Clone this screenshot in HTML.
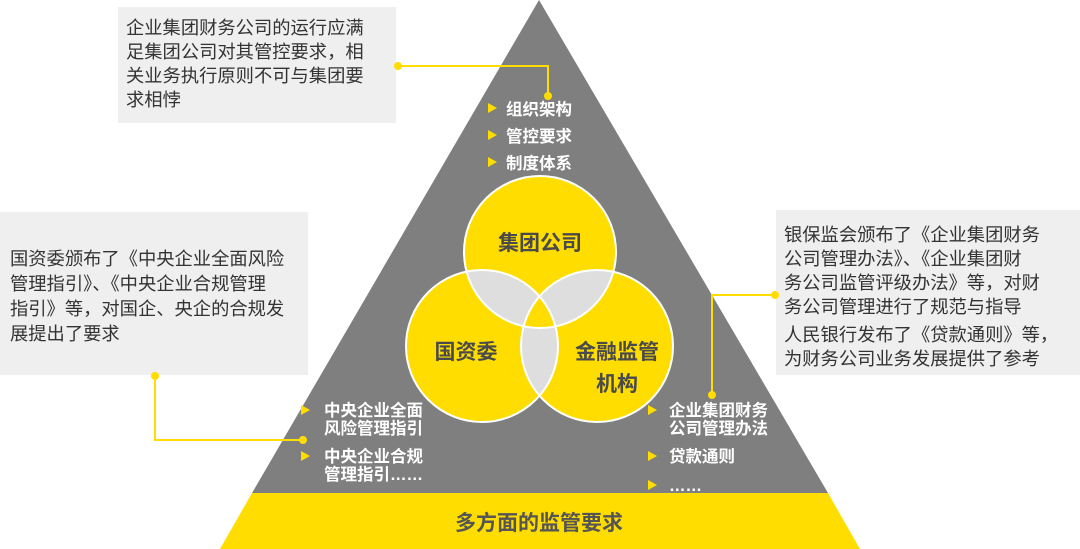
<!DOCTYPE html>
<html><head><meta charset="utf-8"><style>
html,body{margin:0;padding:0;background:#fff;}
svg{display:block}
text{font-family:"Liberation Sans","Noto Sans CJK SC",sans-serif}
.cb{font-size:18.3px;fill:#333}
.w{font-size:16.5px;fill:#fff;font-weight:bold}
.c{font-size:21px;fill:#4a4a4a;font-weight:bold}
</style></head><body>
<svg width="1080" height="549" viewBox="0 0 1080 549" xmlns="http://www.w3.org/2000/svg">
<defs>
<clipPath id="cT"><circle cx="540" cy="252" r="76"/></clipPath>
<clipPath id="cL"><circle cx="482" cy="346" r="76"/></clipPath>
<clipPath id="cR"><circle cx="597" cy="346" r="76"/></clipPath>
</defs>
<polygon points="539,0 252,493 828,493" fill="#7f7f7f"/>
<polygon points="252,493 828,493 860,549 220,549" fill="#ffdd00"/>
<text x="539" y="530" text-anchor="middle" style="font-size:21px;font-weight:bold;fill:#555">多方面的监管要求</text>
<g fill="#ffdd00">
<circle cx="540" cy="252" r="76"/><circle cx="482" cy="346" r="76"/><circle cx="597" cy="346" r="76"/>
</g>
<g fill="#dedede">
<g clip-path="url(#cT)"><circle cx="482" cy="346" r="76"/><circle cx="597" cy="346" r="76"/></g>
<g clip-path="url(#cL)"><circle cx="597" cy="346" r="76"/></g>
</g>
<g clip-path="url(#cT)"><g clip-path="url(#cL)"><circle cx="597" cy="346" r="76" fill="#ffdd00"/></g></g>
<g fill="none" stroke="#fff" stroke-width="2">
<circle cx="540" cy="252" r="76"/><circle cx="482" cy="346" r="76"/><circle cx="597" cy="346" r="76"/>
</g>
<text class="c" x="540" y="250" text-anchor="middle">集团公司</text>
<text class="c" x="466" y="359" text-anchor="middle">国资委</text>
<text class="c" x="617" y="359" text-anchor="middle">金融监管</text>
<text class="c" x="617" y="391" text-anchor="middle">机构</text>
<g fill="#ffdd00">
<polygon points="488,103 497,108 488,113"/><polygon points="488,130 497,135 488,140"/><polygon points="488,157 497,162 488,167"/>
<polygon points="301,405 310,410 301,415"/><polygon points="301,451 310,456 301,461"/>
<polygon points="648,405 657,410 648,415"/><polygon points="648,451 657,456 648,461"/><polygon points="648,480 657,485 648,490"/>
</g>
<text class="w" x="506" y="115">组织架构</text>
<text class="w" x="506" y="142">管控要求</text>
<text class="w" x="506" y="169">制度体系</text>
<text class="w" x="324" y="416">中央企业全面</text>
<text class="w" x="324" y="434">风险管理指引</text>
<text class="w" x="324" y="462">中央企业合规</text>
<text class="w" x="324" y="480">管理指引……</text>
<text class="w" x="669" y="416">企业集团财务</text>
<text class="w" x="669" y="434">公司管理办法</text>
<text class="w" x="669" y="462">贷款通则</text>
<text class="w" x="669" y="491">……</text>
<rect x="118" y="7" width="278" height="116" fill="#efefef"/>
<text class="cb" x="126" y="34">企业集团财务公司的运行应满</text>
<text class="cb" x="126" y="58">足集团公司对其管控要求，相</text>
<text class="cb" x="126" y="82">关业务执行原则不可与集团要</text>
<text class="cb" x="126" y="106">求相悖</text>
<rect x="0" y="212" width="308" height="163" fill="#efefef"/>
<text class="cb" x="10" y="265">国资委颁布了《中央企业全面风险</text>
<text class="cb" x="10" y="290">管理指引》、《中央企业合规管理</text>
<text class="cb" x="10" y="315">指引》等，对国企、央企的合规发</text>
<text class="cb" x="10" y="340">展提出了要求</text>
<rect x="776" y="210" width="304" height="165" fill="#efefef"/>
<text class="cb" x="784" y="241">银保监会颁布了《企业集团财务</text>
<text class="cb" x="784" y="265">公司管理办法》、《企业集团财</text>
<text class="cb" x="784" y="289">务公司监管评级办法》等，对财</text>
<text class="cb" x="784" y="313">务公司管理进行了规范与指导</text>
<text class="cb" x="784" y="341">人民银行发布了《贷款通则》等，</text>
<text class="cb" x="784" y="365">为财务公司业务发展提供了参考</text>
<g fill="none" stroke="#ffdd00" stroke-width="2">
<polyline points="398,66 548,66 548,96"/>
<polyline points="155,376 155,440 303,440"/>
<polyline points="775,295 712,295 712,395"/>
</g>
<g fill="#ffdd00">
<circle cx="398" cy="66" r="4"/><circle cx="548" cy="96" r="4"/>
<circle cx="155" cy="376" r="4"/><circle cx="303" cy="440" r="4"/>
<circle cx="775" cy="295" r="4"/><circle cx="712" cy="395" r="4"/>
</g>
</svg>
</body></html>
